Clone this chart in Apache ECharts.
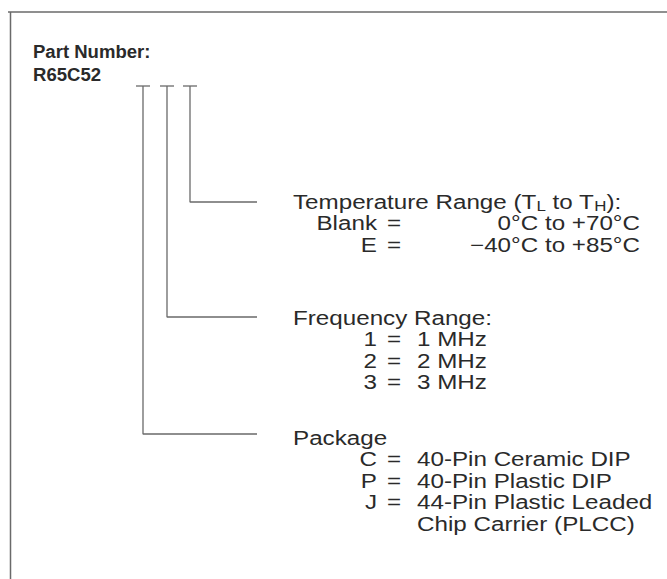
<!DOCTYPE html>
<html><head><meta charset="utf-8">
<script src="https://cdn.jsdelivr.net/npm/echarts@6/dist/echarts.min.js"></script>
<style>html,body{margin:0;padding:0;background:#fff}#c{width:667px;height:579px}</style>
</head><body><div id="c"></div>
<script>
// ---- content (data) ----
const heading = 'Part Number:';
const partNumber = 'R65C52';
const fieldTitles = ['Temperature Range (T{s|L} to T{s|H}):', 'Frequency Range:', 'Package'];
const tempCodes = ['Blank', 'E'];
const tempRanges = ['0°C to +70°C', '−40°C to +85°C'];
const freqCodes = ['1', '2', '3'];
const freqValues = ['1 MHz', '2 MHz', '3 MHz'];
const pkgCodes = ['C', 'P', 'J'];
const pkgValues = ['40-Pin Ceramic DIP', '40-Pin Plastic DIP', '44-Pin Plastic Leaded'];
const pkgContinuation = 'Chip Carrier (PLCC)';

// ---- layout (diagram coordinate space, same size as the page) ----
const W = 667, H = 579;
const leadX = [190, 167, 143];        // temperature, frequency, package leads
const leadY = [202, 317, 434];        // where each lead turns right
const titleY = [202, 318, 438];       // row of each field title
const rowGap = 21.5;
const teeY = 86, teeHalf = 7, leadEndX = 257;
const titleX = 293, keyRightX = 377, eqX = 394, valueX = 417, tempRightX = 640;
const frame = [[8, 12], [W, 12]];
const frameLeft = [[10.5, 12], [10.5, H]];

const items = [];
items.push({x: 33, y: 52, text: heading, align: 'left', bold: true});
items.push({x: 33, y: 75, text: partNumber, align: 'left', bold: true});
fieldTitles.forEach((t, i) => items.push({x: titleX, y: titleY[i], text: t, align: 'left'}));
function codeRows(codes, values, yStart, valueAlign, valueXPos) {
  codes.forEach((c, i) => {
    const y = yStart + rowGap * (i + 1);
    items.push({x: keyRightX, y, text: c, align: 'right'});
    items.push({x: eqX, y, text: '=', align: 'center'});
    items.push({x: valueXPos, y, text: values[i], align: valueAlign});
  });
}
codeRows(tempCodes, tempRanges, titleY[0], 'right', tempRightX);
codeRows(freqCodes, freqValues, titleY[1], 'left', valueX);
codeRows(pkgCodes, pkgValues, titleY[2], 'left', valueX);
items.push({x: valueX, y: titleY[2] + rowGap * (pkgCodes.length + 1), text: pkgContinuation, align: 'left'});

const lineColor = '#6a6a6a';
const series = [];
function poly(pts, w) {
  series.push({type: 'line', data: pts, symbol: 'none', showSymbol: false, silent: true,
    lineStyle: {color: lineColor, width: w || 1.3}, z: 1});
}
poly(frame, 1.5);
poly(frameLeft, 1.5);
leadX.forEach((x, i) => {
  poly([[x - teeHalf, teeY], [x + teeHalf, teeY]]);
  poly([[x, teeY], [x, leadY[i]], [leadEndX, leadY[i]]]);
});

const textColor = '#2a2a2a';
const rich = {s: {fontSize: 14, lineHeight: 13, verticalAlign: 'bottom', fontFamily: 'Liberation Sans', fill: textColor}};
series.push({
  type: 'custom', coordinateSystem: 'cartesian2d', silent: true, z: 2,
  data: items.map((it, i) => [it.x, it.y, i]),
  renderItem: function (params, api) {
    const it = items[params.dataIndex];
    const p = api.coord([api.value(0), api.value(1)]);
    return {
      type: 'text', x: p[0], y: p[1], scaleX: it.bold ? 1.03 : 1.21,
      style: {
        text: it.text, rich: rich, fill: textColor,
        fontFamily: 'Liberation Sans', fontSize: it.bold ? 18 : 20,
        fontWeight: it.bold ? 'bold' : 'normal', lineHeight: 22,
        align: it.align, verticalAlign: 'middle'
      }
    };
  }
});

const chart = echarts.init(document.getElementById('c'), null, {renderer: 'svg'});
chart.setOption({
  animation: false,
  backgroundColor: '#fff',
  grid: {left: 0, right: 0, top: 0, bottom: 0},
  xAxis: {type: 'value', min: 0, max: W, show: false},
  yAxis: {type: 'value', min: 0, max: H, inverse: true, show: false},
  series: series
});
</script></body></html>
